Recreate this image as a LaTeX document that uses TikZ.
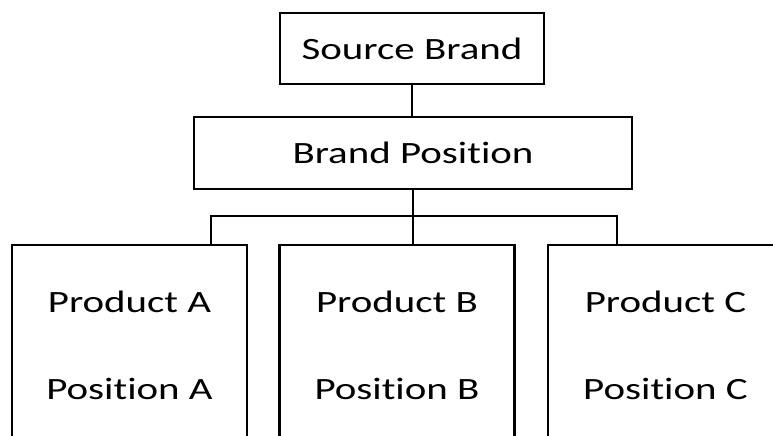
\documentclass[tikz,border=0pt]{standalone}
\usepackage{fontspec}
\setmainfont{Carlito}[FakeStretch=1.32, Ligatures=NoCommon]
\usetikzlibrary{calc}

\begin{document}
\begin{tikzpicture}[x=0.75pt,y=-0.75pt]

% Frame of the picture
\useasboundingbox (0,0) rectangle (773,435);
\clip (0,0) rectangle (773,435);

% Styles
\tikzset{
  box/.style={draw, line width=2.2pt, inner sep=0pt, align=center,
    font=\fontsize{23.25}{65.25}\selectfont},
  prod/.style={box, minimum width=176.25pt, minimum height=150pt},
  link/.style={line width=2.2pt}
}

% Top boxes
\node[box, minimum width=198pt, minimum height=53.25pt] (src) at (412,48.5) {Source Brand};
\node[box, minimum width=328.5pt, minimum height=54pt] (pos) at (413,153) {Brand Position};

% Product boxes
\node[prod] (pa) at (129.5,345) {Product A\\Position A};
\node[prod] (pb) at (397,345) {Product B\\Position B};
\node[prod] (pc) at (665.5,345) {Product C\\Position C};

% Bus points
\coordinate (hub) at (413,216);
\coordinate (busA) at (211,216);
\coordinate (busC) at (617,216);

% Connectors
\draw[link] (src.south) -- (src.south |- pos.north);
\draw[link] (pos.south) -- (hub) -- (hub |- pb.north);
\draw[link] (busA |- pa.north) -- (busA) -- (busC) -- (busC |- pc.north);

\end{tikzpicture}
\end{document}
